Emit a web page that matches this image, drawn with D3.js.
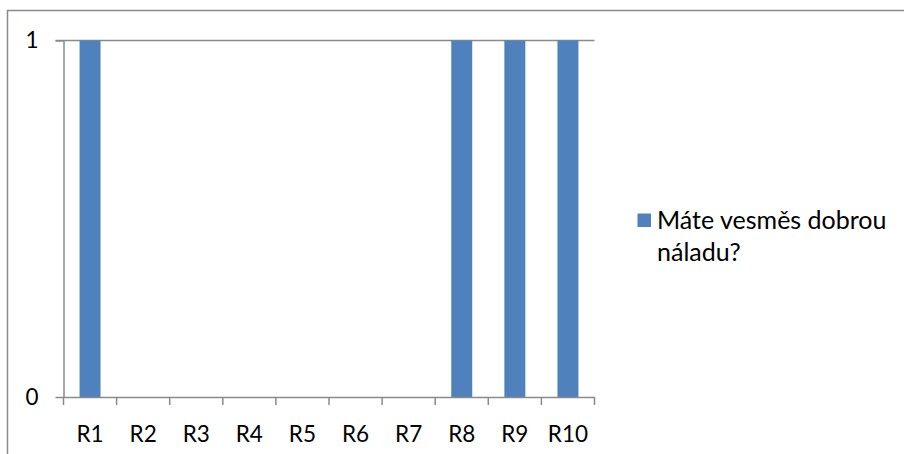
<!DOCTYPE html>
<html>
<head>
<meta charset="utf-8">
<script src="https://cdn.jsdelivr.net/npm/d3@7"></script>
<style>
  html, body { margin: 0; padding: 0; background: #fff; }
  svg { display: block; }
  text { font-family: Lato, "Open Sans", sans-serif; fill: #000; }
</style>
</head>
<body>
<svg id="chart" width="904" height="454"></svg>
<script>
// Answers per respondent
const categories = ["R1", "R2", "R3", "R4", "R5", "R6", "R7", "R8", "R9", "R10"];
const values = [1, 0, 0, 0, 0, 0, 0, 1, 1, 1];
const seriesName = ["Máte vesměs dobrou", "náladu?"];
const yTicks = [0, 1];

const svg = d3.select("#chart");
const axisColor = "#8a8a8a";
const barColor = "#4f81bd";

// Chart frame (runs past the right and bottom edges)
svg.append("rect")
  .attr("x", 7.5).attr("y", 10.5)
  .attr("width", 1000).attr("height", 1000)
  .attr("fill", "none")
  .attr("stroke", axisColor)
  .attr("stroke-width", 1.5);

const plot = { left: 63.5, right: 594.5, top: 40.5, bottom: 397 };

const x = d3.scaleBand()
  .domain(categories)
  .range([plot.left, plot.right])
  .padding(0);

const y = d3.scaleLinear()
  .domain([0, 1])
  .range([plot.bottom, plot.top]);

// Horizontal gridline at the top value
svg.append("g")
  .selectAll("line")
  .data(yTicks.filter(d => d > 0))
  .join("line")
  .attr("x1", plot.left - 8).attr("x2", plot.right)
  .attr("y1", d => y(d)).attr("y2", d => y(d))
  .attr("stroke", axisColor).attr("stroke-width", 1.5);

// Bars
const barW = x.bandwidth() * 0.395;
svg.append("g")
  .selectAll("rect")
  .data(values.map((v, i) => ({ c: categories[i], v })))
  .join("rect")
  .attr("x", d => x(d.c) + (x.bandwidth() - barW) / 2)
  .attr("y", d => y(d.v))
  .attr("width", barW)
  .attr("height", d => y(0) - y(d.v))
  .attr("fill", barColor);

// Y axis
const yAxis = svg.append("g")
  .attr("transform", `translate(${plot.left},0)`)
  .call(d3.axisLeft(y).tickValues(yTicks).tickFormat(d3.format("d")).tickSizeInner(8).tickSizeOuter(0).tickPadding(17));
yAxis.select(".domain").attr("stroke", axisColor).attr("stroke-width", 1.5);
yAxis.selectAll(".tick line").attr("stroke", axisColor).attr("stroke-width", 1.5);
yAxis.selectAll(".tick text").attr("font-size", 22.5).attr("font-family", "Lato, sans-serif").attr("fill", "#000");

// X axis with ticks between categories
const xAxis = svg.append("g")
  .attr("transform", `translate(0,${plot.bottom})`)
  .call(d3.axisBottom(x).tickSize(0).tickPadding(29));
xAxis.select(".domain").attr("stroke", axisColor).attr("stroke-width", 1.5);
xAxis.selectAll(".tick text").attr("font-size", 22.5).attr("font-family", "Lato, sans-serif").attr("fill", "#000");

const bounds = categories.map(c => x(c)).concat([plot.right]);
xAxis.append("g")
  .selectAll("line")
  .data(bounds)
  .join("line")
  .attr("x1", d => d).attr("x2", d => d)
  .attr("y1", 0).attr("y2", 8)
  .attr("stroke", axisColor).attr("stroke-width", 1.5);

// Legend
const legend = svg.append("g");
legend.append("rect")
  .attr("x", 637.5).attr("y", 213.5)
  .attr("width", 13.5).attr("height", 13.5)
  .attr("fill", barColor);
legend.selectAll("text")
  .data(seriesName)
  .join("text")
  .attr("x", 657)
  .attr("y", (d, i) => 229 + i * 32)
  .attr("font-size", 25)
  .text(d => d);
</script>
</body>
</html>
